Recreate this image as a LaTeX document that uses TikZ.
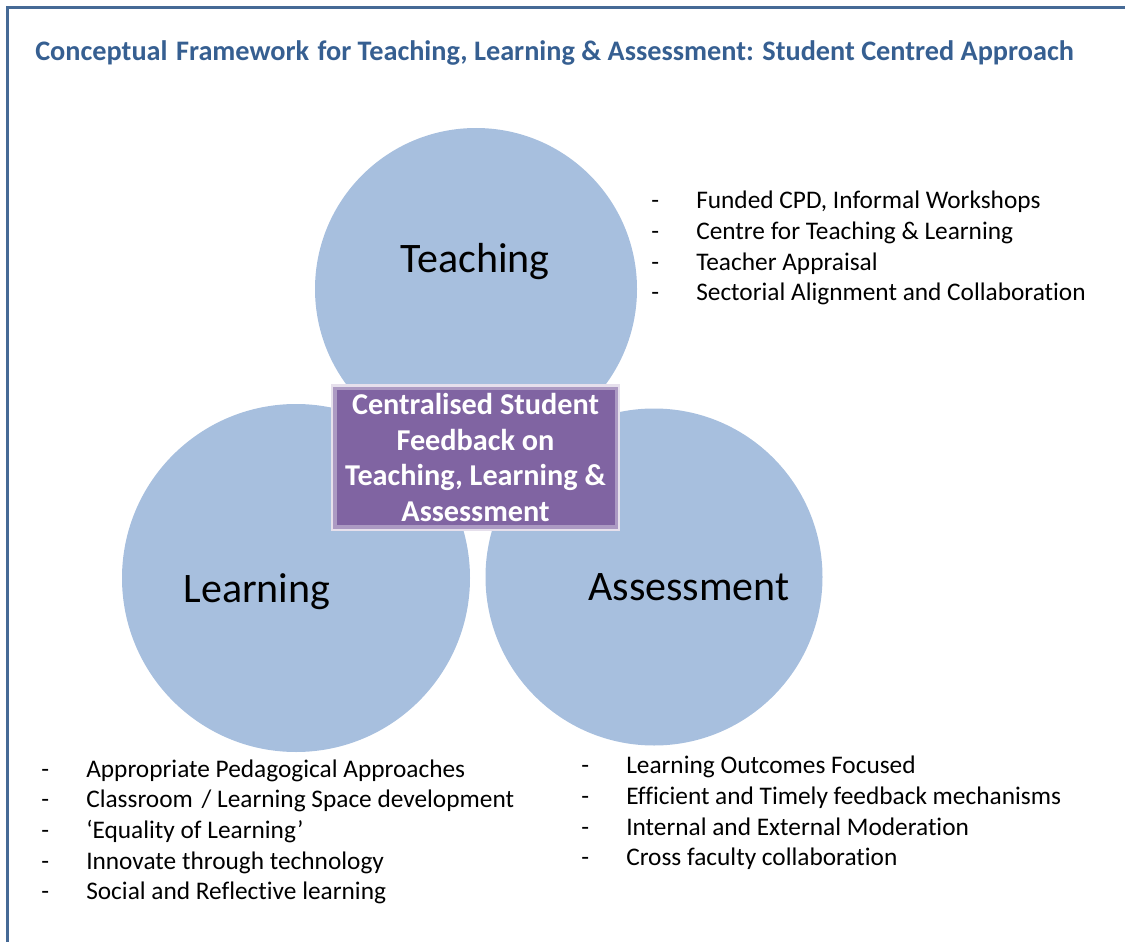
\documentclass[tikz,border=0pt]{standalone}
\usepackage{fontspec}
\setmainfont{Carlito}[Ligatures=NoCommon]
\usepackage{tikz}

\definecolor{circblue}{RGB}{167,191,222}
\definecolor{boxpurple}{RGB}{128,100,162}
\definecolor{titleblue}{RGB}{54,95,145}
\definecolor{frameblue}{RGB}{70,106,150}

\newcommand{\dashitem}[1]{\makebox[33.75pt][l]{-}#1}

\tikzset{
  topic/.style={circle, fill=circblue, inner sep=0pt},
  topiclabel/.style={anchor=base, inner sep=0.75pt, font=\fontsize{31.5}{37}\selectfont},
  listline/.style={anchor=base west, inner sep=0.75pt, font=\fontsize{19}{23}\selectfont},
}

\begin{document}
\begin{tikzpicture}[x=0.75pt,y=0.75pt,yscale=-1,xscale=1]
\useasboundingbox (0,0) rectangle (1125,942);

%Straight Lines [frame]
\draw [color=frameblue, line width=2.25pt]  (7,942) -- (7,8) -- (1125,8) ;

%Shape: Circle [teaching]
\draw (476,289) node [topic, minimum size=241.5pt] (teach) {};
%Shape: Circle [learning]
\draw (296,578) node [topic, minimum size=261pt] (learn) {};
%Shape: Circle [assessment]
\draw (654,577) node [topic, minimum size=252.75pt] (assess) {};

%Shape: Rectangle [feedback]
\draw (475.5,457.5) node [rectangle, fill=boxpurple, minimum width=211pt, minimum height=104pt,
  preaction={draw=boxpurple!20, line width=6pt}, draw=boxpurple!65, line width=2.5pt,
  text=white, align=center, font=\bfseries\fontsize{22.7}{26.6}\selectfont] (fb)
  {Centralised Student\\Feedback on\\Teaching, Learning \&\\Assessment};

% Text Node
\draw (35,61) node [anchor=base west][inner sep=0pt] [text=titleblue, font=\bfseries\fontsize{21.2}{25}\selectfont] (title)
  {Conceptual\hspace{0.3em}Framework\hspace{0.3em}for Teaching, Learning \& Assessment: Student Centred Approach};
% Text Node
\draw (475,272) node [topiclabel] (teachlbl) {Teaching};
% Text Node
\draw (257,602) node [topiclabel] (learnlbl) {Learning};
% Text Node
\draw (689,600) node [topiclabel] (assesslbl) {Assessment};

% Text Node
\draw (650,208) node [listline] (t1) {\dashitem{Funded CPD, Informal Workshops}};
% Text Node
\draw (650,239) node [listline] (t2) {\dashitem{Centre for Teaching \& Learning}};
% Text Node
\draw (650,270) node [listline] (t3) {\dashitem{Teacher Appraisal}};
% Text Node
\draw (650,300) node [listline] (t4) {\dashitem{Sectorial Alignment and Collaboration}};

% Text Node
\draw (40,777) node [listline] (l1) {\dashitem{Appropriate Pedagogical Approaches}};
% Text Node
\draw (40,807) node [listline] (l2) {\dashitem{Classroom\hspace{0.12em} / Learning Space development}};
% Text Node
\draw (40,838) node [listline] (l3) {\dashitem{`Equality of Learning'}};
% Text Node
\draw (40,869) node [listline] (l4) {\dashitem{Innovate through technology}};
% Text Node
\draw (40,899) node [listline] (l5) {\dashitem{Social and Reflective learning}};

% Text Node
\draw (580,773) node [listline] (a1) {\dashitem{Learning Outcomes Focused}};
% Text Node
\draw (580,804) node [listline] (a2) {\dashitem{Efficient and Timely feedback mechanisms}};
% Text Node
\draw (580,835) node [listline] (a3) {\dashitem{Internal and External Moderation}};
% Text Node
\draw (580,865) node [listline] (a4) {\dashitem{Cross faculty collaboration}};

\end{tikzpicture}
\end{document}
